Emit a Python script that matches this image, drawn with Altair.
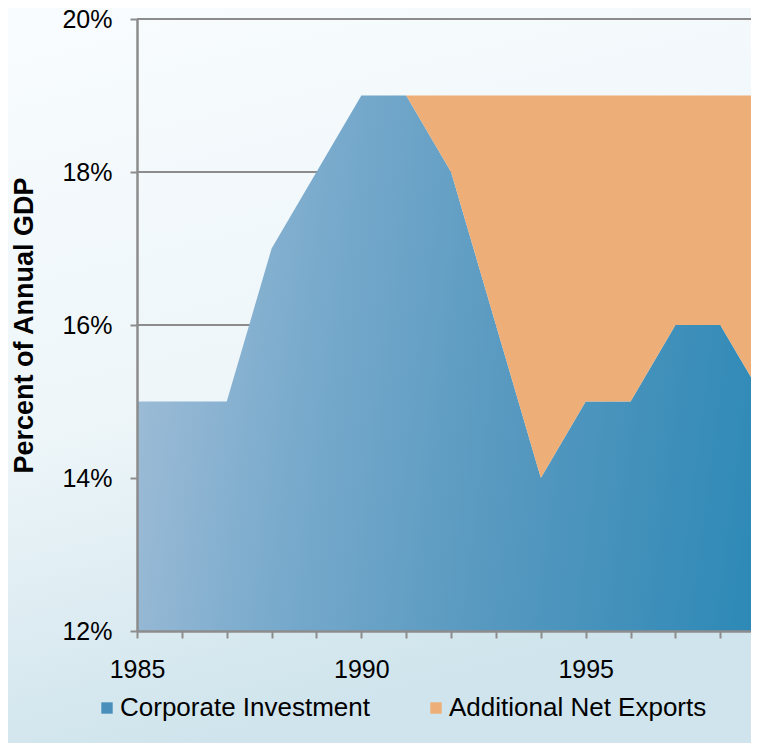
import altair as alt
import pandas as pd

# ---- data ----
years = list(range(1985, 2000))
corporate_investment = [15, 15, 15, 17, 18, 19, 19, 18, 16, 14, 15, 15, 16, 16, 15]
additional_net_exports = [0, 0, 0, 0, 0, 0, 0, 1, 3, 5, 4, 4, 3, 3, 4]
series = ["Corporate Investment", "Additional Net Exports"]
y_ticks = [12, 14, 16, 18, 20]
grid_values = [14, 16, 18, 20]
x_tick_years = list(range(1985, 1999))

BLUE = "#4a8fbc"
ORANGE = "#EEAE77"
GRAY = "#8c8c8c"
FONT = "Liberation Sans"

df = pd.DataFrame({"year": years, "invest": corporate_investment,
                   "exports": additional_net_exports})
df["top"] = df["invest"] + df["exports"]

W = 614
H = 612
PX_PER_YEAR = 44.87
x_scale = alt.Scale(domain=[1985, 1985 + W / PX_PER_YEAR], nice=False, zero=False)
y_scale = alt.Scale(domain=[12, 20], nice=False, zero=False)

x_axis = alt.Axis(
    values=x_tick_years,
    labelExpr="datum.value % 5 == 0 ? format(datum.value, 'd') : ''",
    labelOverlap=False, labelFlush=False, grid=False, title=None,
    domainColor=GRAY, domainWidth=2.5, tickColor=GRAY, tickWidth=2, tickSize=7,
    labelFontSize=25, labelColor="black", labelFont=FONT, labelPadding=19,
    zindex=1,
)
y_axis = alt.Axis(
    values=y_ticks, labelExpr="datum.value + '%'", grid=False,
    title="Percent of Annual GDP", titleFontSize=27, titleFont=FONT,
    titleFontWeight="bold", titleColor="black", titlePadding=23,
    domainColor=GRAY, domainWidth=2.5, tickColor=GRAY, tickWidth=2, tickSize=7,
    labelFontSize=25, labelColor="black", labelFont=FONT, labelPadding=18,
    zindex=1,
)

bg = alt.Chart(pd.DataFrame({"a": [0]})).mark_rect(
    color=alt.Gradient(
        gradient="linear", x1=0, y1=0, x2=0.25, y2=1,
        stops=[alt.GradientStop(offset=0, color="#f8fcfe"),
               alt.GradientStop(offset=0.55, color="#eef6f9"),
               alt.GradientStop(offset=1, color="#cfe4ec")],
    )
).encode(x=alt.value(-129), x2=alt.value(W), y=alt.value(-11), y2=alt.value(H + 112))

grid = alt.Chart(pd.DataFrame({"v": grid_values})).mark_rule(
    color=GRAY, strokeWidth=2
).encode(
    y=alt.Y("v:Q", scale=y_scale, axis=y_axis),
    x=alt.value(0), x2=alt.value(W),
)

blue = alt.Chart(df).mark_area(
    clip=True,
    color=alt.Gradient(
        gradient="linear", x1=0, y1=0, x2=1, y2=0.3,
        stops=[alt.GradientStop(offset=0, color="#a4bfd8"),
               alt.GradientStop(offset=0.3, color="#78aacc"),
               alt.GradientStop(offset=0.6, color="#5899c0"),
               alt.GradientStop(offset=1, color="#2d89b6")],
    ),
).encode(
    x=alt.X("year:Q", scale=x_scale, axis=x_axis),
    y=alt.Y("invest:Q", scale=y_scale, axis=y_axis),
    y2=alt.value(H),
)

orange = alt.Chart(df).mark_area(clip=True, color=ORANGE).encode(
    x=alt.X("year:Q", scale=x_scale, axis=x_axis),
    y=alt.Y("invest:Q", scale=y_scale, axis=y_axis),
    y2="top:Q",
)

legend_layer = alt.Chart(pd.DataFrame({"series": series})).mark_square(
    size=130, opacity=1
).encode(
    x=alt.value(-3000), y=alt.value(-3000),
    color=alt.Color(
        "series:N",
        scale=alt.Scale(domain=series, range=[BLUE, ORANGE]),
        legend=alt.Legend(
            title=None, orient="none", direction="horizontal",
            legendX=-43, legendY=676, symbolType="square", symbolSize=130,
            labelFontSize=26, labelFont=FONT, labelColor="black",
            labelOffset=0, columnPadding=52, padding=0,
            symbolStrokeWidth=0, labelLimit=400,
        ),
    ),
)

chart = alt.layer(bg, grid, blue, orange, legend_layer).properties(
    width=W, height=H,
    autosize=alt.AutoSizeParams(type="none"),
    padding={"left": 129, "top": 11, "right": 0, "bottom": 112},
).configure_view(stroke=None).configure(background="#f8fcfe")

chart.save("out.html", embed_options={"renderer": "svg", "actions": False})
